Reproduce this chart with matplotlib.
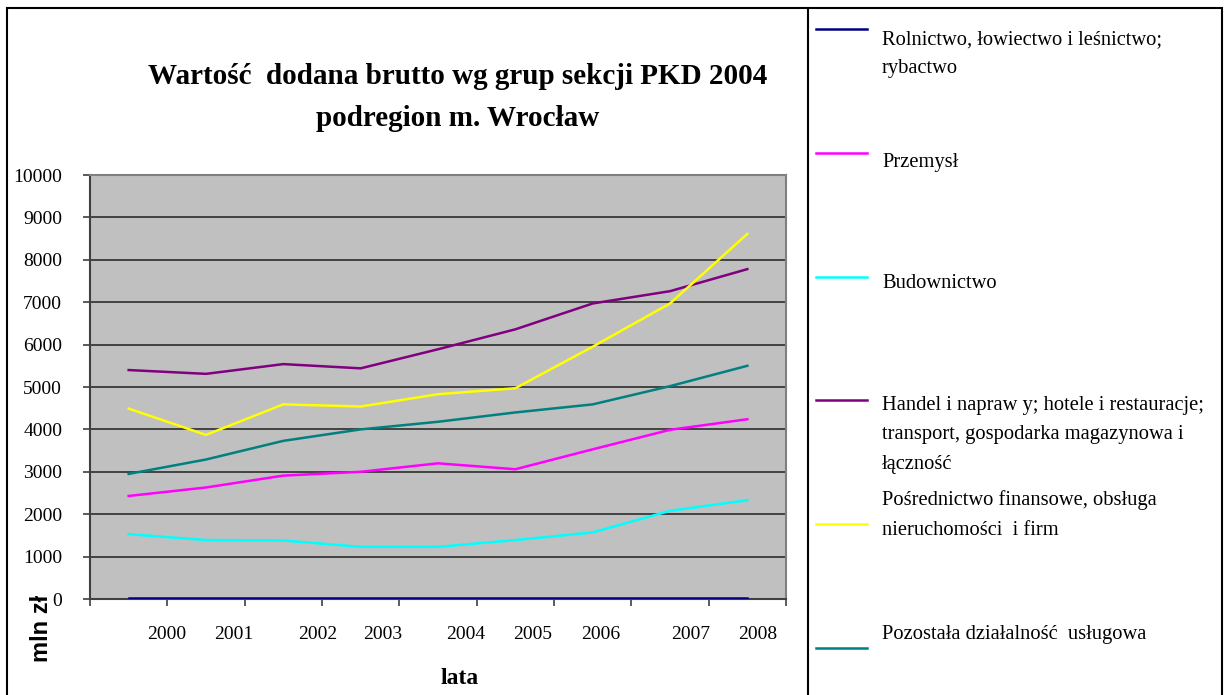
import matplotlib.pyplot as plt
from matplotlib.lines import Line2D
from matplotlib.patches import Rectangle

YEARS = ["2000", "2001", "2002", "2003", "2004", "2005", "2006", "2007", "2008"]
# label positions as drawn in the source (offset from the category centres)
YEAR_LABEL_POS = [0.49, 1.36, 2.44, 3.29, 4.36, 5.22, 6.10, 7.27, 8.14]

ROLNICTWO = [15, 15, 15, 15, 15, 15, 15, 15, 15]
PRZEMYSL = [2430, 2630, 2910, 3000, 3200, 3060, 3530, 3990, 4240]
BUDOWNICTWO = [1530, 1390, 1380, 1230, 1230, 1390, 1570, 2080, 2330]
HANDEL = [5400, 5310, 5540, 5440, 5890, 6360, 6970, 7260, 7780]
POSREDNICTWO = [4490, 3870, 4590, 4540, 4830, 4970, 5950, 6970, 8610]
POZOSTALA = [2950, 3290, 3730, 4000, 4180, 4400, 4590, 5020, 5500]

SERIES = [
    ("Rolnictwo, łowiectwo i leśnictwo;\nrybactwo", ROLNICTWO, "#000080"),
    ("Przemysł", PRZEMYSL, "#FF00FF"),
    ("Budownictwo", BUDOWNICTWO, "#00FFFF"),
    ("Handel i napraw y; hotele i restauracje;\ntransport, gospodarka magazynowa i\nłączność", HANDEL, "#800080"),
    ("Pośrednictwo finansowe, obsługa\nnieruchomości  i firm", POSREDNICTWO, "#FFFF00"),
    ("Pozostała działalność  usługowa", POZOSTALA, "#008080"),
]

# legend layout (figure pixels from top): line y, text y
LEGEND_ROWS = [(29, 54), (153, 163), (277, 284), (400, 435), (524, 515), (648, 635)]

W, H = 1228, 695
SERIF = ["Liberation Serif", "DejaVu Serif"]

fig = plt.figure(figsize=(W / 100, H / 100), dpi=100)
fig.patch.set_facecolor("white")

ax = fig.add_axes([90 / W, 1 - 599 / H, (786 - 90) / W, (599 - 175) / H])
ax.set_facecolor("#C0C0C0")

x = list(range(len(YEARS)))
for label, vals, color in SERIES:
    ax.plot(x, vals, color=color, linewidth=1.8, solid_joinstyle="miter", zorder=3)

ax.set_xlim(-0.5, len(YEARS) - 0.5)
ax.set_ylim(0, 10000)
ax.set_yticks(range(0, 10001, 1000))
ax.set_yticklabels([str(v) for v in range(0, 10001, 1000)], fontfamily=SERIF, fontsize=14)
ax.set_xticks([i - 0.5 for i in range(len(YEARS) + 1)])
ax.set_xticklabels([])
ax.tick_params(axis="both", direction="out", length=5, width=1.2, color="#404040")
ax.tick_params(axis="y", pad=15)
ax.yaxis.grid(True, color="#202020", linewidth=1.1)
ax.set_axisbelow(True)
for side in ("top", "right"):
    ax.spines[side].set_color("#808080")
    ax.spines[side].set_linewidth(1.5)
for side in ("left", "bottom"):
    ax.spines[side].set_color("#404040")
    ax.spines[side].set_linewidth(1.5)

for pos, yr in zip(YEAR_LABEL_POS, YEARS):
    ax.text(pos, -0.083, yr, transform=ax.get_xaxis_transform(), ha="center", va="center",
            fontfamily=SERIF, fontsize=14)

def fx(px):
    return px / W

def fy(py):
    return 1 - py / H

fig.text(fx(458), fy(77), "Wartość  dodana brutto wg grup sekcji PKD 2004", ha="center", va="center",
         fontfamily=SERIF, fontweight="bold", fontsize=21)
fig.text(fx(458), fy(118), "podregion m. Wrocław", ha="center", va="center",
         fontfamily=SERIF, fontweight="bold", fontsize=21)
fig.text(fx(41), fy(628), "mln zł", rotation=90, ha="center", va="center",
         fontfamily=["Liberation Sans", "DejaVu Sans"], fontweight="bold", fontsize=17)
fig.text(fx(460), fy(679), "lata", ha="center", va="center",
         fontfamily=SERIF, fontweight="bold", fontsize=17)

# outer frame and legend divider
fig.add_artist(Rectangle((fx(7), fy(720)), fx(1222 - 7), (720 - 8) / H, fill=False,
                         edgecolor="black", linewidth=1.5, transform=fig.transFigure))
fig.add_artist(Line2D([fx(808), fx(808)], [fy(8), fy(720)], color="black", linewidth=1.5,
                      transform=fig.transFigure))

for (label, vals, color), (ly, ty) in zip(SERIES, LEGEND_ROWS):
    fig.add_artist(Line2D([fx(816), fx(867)], [fy(ly), fy(ly)], color=color, linewidth=1.8,
                          transform=fig.transFigure))
    fig.text(fx(882), fy(ty), label, ha="left", va="center", fontfamily=SERIF, fontsize=14.8,
             linespacing=1.75)

fig.savefig("out.png", dpi=100)
